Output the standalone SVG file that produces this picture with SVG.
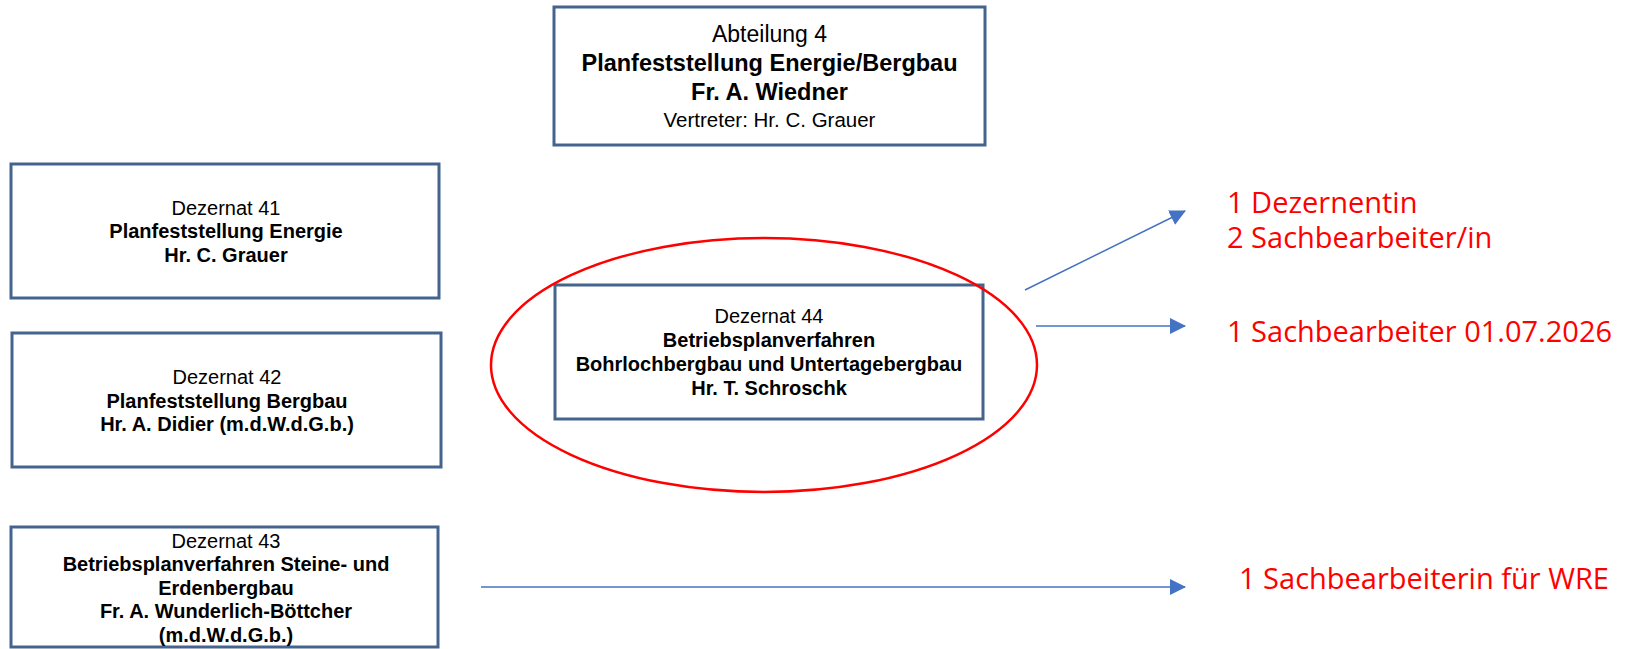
<svg xmlns="http://www.w3.org/2000/svg" width="1626" height="649" viewBox="0 0 1626 649">
<style>
.box{fill:#ffffff;stroke:#44648e;stroke-width:3}
.t{font-family:"Liberation Sans",Arial,sans-serif;fill:#000;text-anchor:middle}
.r{font-weight:normal}
.b{font-weight:bold}
.d{font-size:20px}
.red{font-family:"Open Sans","Noto Sans",sans-serif;font-size:29px;fill:#ff0000}
.conn{stroke:#4472c4;stroke-width:1.5;fill:none;marker-end:url(#ah)}
</style>
<defs>
<marker id="ah" markerUnits="userSpaceOnUse" markerWidth="16" markerHeight="16" refX="15" refY="8" orient="auto">
<path d="M0,0 L16,8 L0,16 z" fill="#4472c4"/>
</marker>
</defs>
<rect width="1626" height="649" fill="#ffffff"/>
<g id="abteilung4">
<rect class="box" x="554" y="7" width="431" height="138"/>
<text class="t r" x="769.5" y="42" font-size="23">Abteilung 4</text>
<text class="t b" x="769.5" y="71" font-size="23.5">Planfeststellung Energie/Bergbau</text>
<text class="t b" x="769.5" y="100" font-size="23.5">Fr. A. Wiedner</text>
<text class="t r" x="769.5" y="127" font-size="20.5">Vertreter: Hr. C. Grauer</text>
</g>
<g id="dezernat41">
<rect class="box" x="11" y="164" width="428" height="134"/>
<text class="t r d" x="226" y="215">Dezernat 41</text>
<text class="t b d" x="226" y="238">Planfeststellung Energie</text>
<text class="t b d" x="226" y="262">Hr. C. Grauer</text>
</g>
<g id="dezernat42">
<rect class="box" x="12" y="333" width="429" height="134"/>
<text class="t r d" x="227" y="384">Dezernat 42</text>
<text class="t b d" x="227" y="408">Planfeststellung Bergbau</text>
<text class="t b d" x="227" y="431">Hr. A. Didier (m.d.W.d.G.b.)</text>
</g>
<g id="dezernat43">
<rect class="box" x="11" y="527" width="427" height="120"/>
<text class="t r d" x="226" y="548">Dezernat 43</text>
<text class="t b d" x="226" y="571">Betriebsplanverfahren Steine- und</text>
<text class="t b d" x="226" y="595">Erdenbergbau</text>
<text class="t b d" x="226" y="618">Fr. A. Wunderlich-Böttcher</text>
<text class="t b d" x="226" y="642">(m.d.W.d.G.b.)</text>
</g>
<g id="dezernat44">
<rect class="box" x="555" y="285" width="428" height="134"/>
<text class="t r d" x="769" y="323">Dezernat 44</text>
<text class="t b d" x="769" y="347">Betriebsplanverfahren</text>
<text class="t b d" x="769" y="371">Bohrlochbergbau und Untertagebergbau</text>
<text class="t b d" x="769" y="395">Hr. T. Schroschk</text>
</g>
<g id="highlight">
<ellipse cx="764" cy="365" rx="273" ry="127" fill="none" stroke="#ff0000" stroke-width="2.5"/>
</g>
<g id="connectors">
<line class="conn" x1="1025" y1="290" x2="1185" y2="211"/>
<line class="conn" x1="1036" y1="326" x2="1185" y2="326"/>
<line class="conn" x1="481" y1="587" x2="1185" y2="587"/>
</g>
<g id="notes">
<text class="red" x="1227" y="213">1 Dezernentin</text>
<text class="red" x="1227" y="248">2 Sachbearbeiter/in</text>
<text class="red" x="1227" y="342">1 Sachbearbeiter 01.07.2026</text>
<text class="red" x="1239" y="589">1 Sachbearbeiterin für WRE</text>
</g>
</svg>
